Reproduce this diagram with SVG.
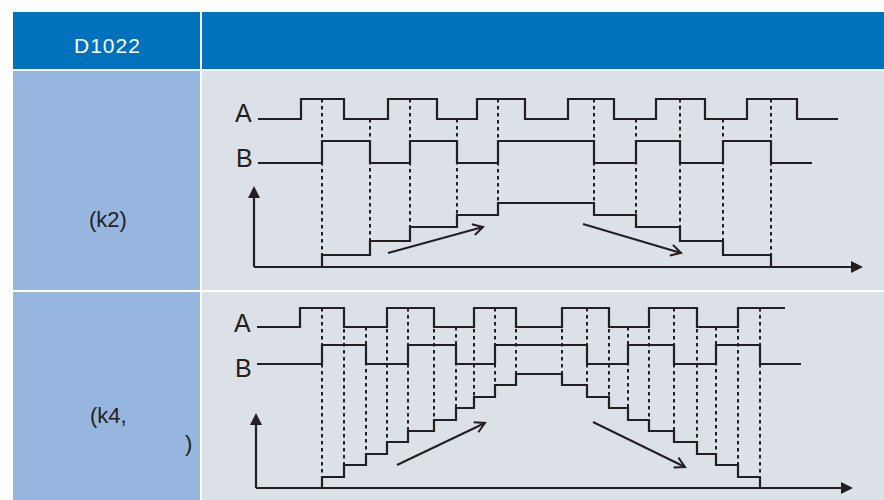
<svg xmlns="http://www.w3.org/2000/svg" width="884" height="500" viewBox="0 0 884 500">
<style>
.hdr{fill:#0071BC}
.lab{fill:#97B6DF}
.cell{fill:#DCE1E7}
.t{font-family:"Liberation Sans",Arial,sans-serif;fill:#231F20}
.sig{fill:none;stroke:#231F20;stroke-width:2.2;stroke-linejoin:miter}
.dash{fill:none;stroke:#231F20;stroke-width:2;stroke-dasharray:3.5 3.5}
.ax{fill:none;stroke:#231F20;stroke-width:2.2;marker-end:url(#tri)}
.arr{fill:none;stroke:#231F20;stroke-width:2;marker-end:url(#vee)}
</style>
<defs>
<marker id="tri" markerUnits="userSpaceOnUse" markerWidth="14" markerHeight="14" refX="4" refY="6" orient="auto" overflow="visible">
<path d="M0,0 L12,6 L0,12 Z" fill="#231F20"/>
</marker>
<marker id="vee" markerUnits="userSpaceOnUse" markerWidth="14" markerHeight="14" refX="11" refY="6" orient="auto" overflow="visible">
<path d="M1,0.5 L11,6 L1,11.5" fill="none" stroke="#231F20" stroke-width="2"/>
</marker>
</defs>
<rect width="884" height="500" fill="#FFFFFF"/>

<g id="header">
<rect class="hdr" x="13" y="12" width="187" height="57"/>
<rect class="hdr" x="202" y="12" width="682" height="57"/>
<text x="74" y="53" font-family="Liberation Sans, Arial, sans-serif" font-size="21" letter-spacing="1" fill="#FFFFFF">D1022</text>
</g>

<g id="row1-label">
<rect class="lab" x="13" y="71" width="187" height="219"/>
<text class="t" x="89" y="227" font-size="22">(k2)</text>
</g>

<g id="row2-label">
<rect class="lab" x="13" y="292" width="187" height="208"/>
<text class="t" x="90" y="423" font-size="22">(k4,</text>
<text class="t" x="185" y="451" font-size="22">)</text>
</g>

<g id="row1-chart">
<rect class="cell" x="202" y="71" width="682" height="219"/>
<text class="t" x="235" y="122" font-size="25">A</text>
<text class="t" x="236" y="167" font-size="25">B</text>
<path class="sig" d="M258,119 H301 V99 H344 V119 H388 V99 H437 V119 H477 V99 H525 V119 H568 V99 H614 V119 H656 V99 H705 V119 H747 V99 H797 V119 H838"/>
<path class="sig" d="M258,163 H322 V141 H370 V163 H410 V141 H457 V163 H498 V141 H594 V163 H636 V141 H680 V163 H723 V141 H771 V163 H812"/>
<g id="row1-dashes">
<path class="dash" d="M322,99 V255 M370,119 V241 M410,99 V227 M457,119 V215 M498,99 V203 M594,99 V215 M636,119 V227 M680,99 V241 M723,119 V255 M771,99 V267"/>
</g>
<path class="sig" d="M322,267 V255 H370 V241 H410 V227 H457 V215 H498 V203 H594 V215 H636 V227 H680 V241 H723 V255 H771 V267"/>
</g>

<g id="row2-chart">
<rect class="cell" x="202" y="292" width="682" height="208"/>
<text class="t" x="234" y="332" font-size="25">A</text>
<text class="t" x="235" y="377" font-size="25">B</text>
<path class="sig" d="M257,327 H300 V308 H344 V327 H387 V308 H434 V327 H474 V308 H516 V327 H562 V308 H609 V327 H649 V308 H697 V327 H738 V308 H785"/>
<path class="sig" d="M257,364 H322 V345 H366 V364 H408 V345 H456 V364 H495 V345 H587 V364 H628 V345 H674 V364 H716 V345 H760 V364 H801"/>
<g id="row2-dashes">
<path class="dash" d="M322,308 V477 M344,308 V465 M366,327 V454 M387,308 V442 M408,308 V431 M434,308 V420 M456,327 V408 M474,308 V397 M495,308 V385 M516,308 V374 M562,308 V385 M587,308 V397 M609,308 V408 M628,327 V420 M649,308 V431 M674,308 V442 M697,308 V454 M716,327 V465 M738,308 V477 M760,308 V488"/>
</g>
<path class="sig" d="M322,488 V477 H344 V465 H366 V454 H387 V442 H408 V431 H434 V420 H456 V408 H474 V397 H495 V385 H516 V374 H562 V385 H587 V397 H609 V408 H628 V420 H649 V431 H674 V442 H697 V454 H716 V465 H738 V477 H760 V488"/>
</g>

<g id="connectors">
<path class="ax" d="M254,267 V194"/>
<path class="ax" d="M254,267 H855"/>
<path class="arr" d="M388,253 L483,227"/>
<path class="arr" d="M583,224 L681,253"/>
<path class="ax" d="M256,488 V421"/>
<path class="ax" d="M256,488 H845"/>
<path class="arr" d="M397,465 L485,423"/>
<path class="arr" d="M593,422 L685,467"/>
</g>
</svg>
